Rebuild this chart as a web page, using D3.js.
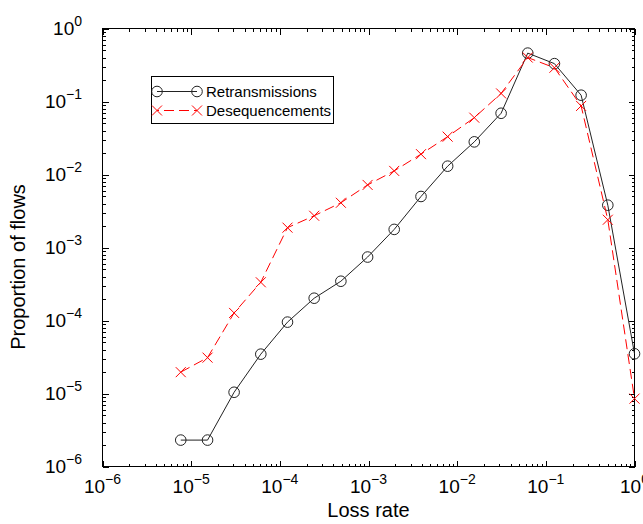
<!DOCTYPE html>
<html><head><meta charset="utf-8">
<script src="https://cdn.jsdelivr.net/npm/d3@7/dist/d3.min.js"></script>
<style>
body{margin:0;background:#fff}
text{font-family:"Liberation Sans",Arial,Helvetica,sans-serif;fill:#000}
</style>
</head><body>
<svg id="c" width="643" height="524"></svg>
<script>
// ---- data ----
const lossRate = [7.63e-6, 1.53e-5, 3.05e-5, 6.10e-5, 1.22e-4, 2.44e-4, 4.88e-4, 9.77e-4,
                  1.95e-3, 3.91e-3, 7.81e-3, 1.56e-2, 3.13e-2, 6.25e-2, 0.125, 0.25, 0.5, 1];
const retransmissions = [2.3e-6, 2.3e-6, 1.04e-5, 3.46e-5, 9.5e-5, 2.02e-4, 3.45e-4, 7.4e-4,
                  1.77e-3, 5.0e-3, 1.30e-2, 2.8e-2, 6.9e-2, 0.46, 0.33, 0.122, 3.8e-3, 3.5e-5];
const desequencements = [1.96e-5, 3.1e-5, 1.27e-4, 3.34e-4, 1.87e-3, 2.72e-3, 4.1e-3, 7.2e-3,
                  1.12e-2, 1.9e-2, 3.3e-2, 6.0e-2, 0.129, 0.40, 0.29, 8.7e-2, 2.4e-3, 8.5e-6];
const seriesNames = ["Retransmissions", "Desequencements"];
const xTickValues = [1e-6, 1e-5, 1e-4, 1e-3, 1e-2, 1e-1, 1e0];
const xTickExponents = ["\u22126", "\u22125", "\u22124", "\u22123", "\u22122", "\u22121", "0"];
const yTickValues = [1e-6, 1e-5, 1e-4, 1e-3, 1e-2, 1e-1, 1e0];
const yTickExponents = ["\u22126", "\u22125", "\u22124", "\u22123", "\u22122", "\u22121", "0"];
const xTitle = "Loss rate";
const yTitle = "Proportion of flows";

// ---- layout ----
const L = 102.5, R = 634.5, T = 28.5, B = 466.5;
const svg = d3.select("#c");
const x = d3.scaleLog().domain([1e-6, 1]).range([L, R]);
const y = d3.scaleLog().domain([1e-6, 1]).range([B, T]);

const minors = [];
for (let e = -6; e < 0; e++) for (let m = 2; m <= 9; m++) minors.push(m * Math.pow(10, e));

function addAxis(gen, tr, vals, size) {
  const g = svg.append("g").attr("transform", tr)
    .call(gen.tickValues(vals).tickSize(size).tickSizeOuter(0).tickFormat(""));
  g.select(".domain").remove();
  g.selectAll("line").attr("stroke", "#000").attr("shape-rendering", "crispEdges");
  return g;
}
addAxis(d3.axisBottom(x), `translate(0,${B})`, xTickValues, -6);
addAxis(d3.axisBottom(x), `translate(0,${B})`, minors, -3);
addAxis(d3.axisTop(x), `translate(0,${T})`, xTickValues, -6);
addAxis(d3.axisTop(x), `translate(0,${T})`, minors, -3);
addAxis(d3.axisLeft(y), `translate(${L},0)`, yTickValues, -6);
addAxis(d3.axisLeft(y), `translate(${L},0)`, minors, -3);
addAxis(d3.axisRight(y), `translate(${R},0)`, yTickValues, -6);
addAxis(d3.axisRight(y), `translate(${R},0)`, minors, -3);

svg.append("rect").attr("x", L).attr("y", T).attr("width", R - L).attr("height", B - T)
  .attr("fill", "none").attr("stroke", "#000").attr("stroke-width", 1);

// tick labels
xTickValues.forEach((v, i) => {
  const t = svg.append("text").attr("x", x(v)).attr("y", B + 26).attr("text-anchor", "middle")
    .attr("font-size", 19);
  t.append("tspan").text("10");
  t.append("tspan").attr("dy", -9).attr("font-size", 14).text(xTickExponents[i]);
});
yTickValues.forEach((v, i) => {
  const t = svg.append("text").attr("x", 82).attr("y", y(v) + 6.5).attr("text-anchor", "end")
    .attr("font-size", 19);
  t.append("tspan").text("10");
  t.append("tspan").attr("dy", -9).attr("font-size", 14).text(yTickExponents[i]);
});

svg.append("text").attr("x", (L + R) / 2).attr("y", 517).attr("text-anchor", "middle")
  .attr("font-size", 20).text(xTitle);
svg.append("text").attr("transform", "translate(25,267) rotate(-90)").attr("text-anchor", "middle")
  .attr("font-size", 20).text(yTitle);

// ---- series ----
const pts1 = lossRate.map((d, i) => [d, retransmissions[i]]);
const pts2 = lossRate.map((d, i) => [d, desequencements[i]]);
const line = d3.line().x(d => x(d[0])).y(d => y(d[1]));
const dash = "10,5";

svg.append("path").datum(pts1).attr("d", line).attr("fill", "none")
  .attr("stroke", "#222").attr("stroke-width", 1);
svg.selectAll("circle.r").data(pts1).join("circle").attr("class", "r")
  .attr("cx", d => x(d[0])).attr("cy", d => y(d[1])).attr("r", 5.3)
  .attr("fill", "none").attr("stroke", "#222").attr("stroke-width", 1);

svg.append("path").datum(pts2).attr("d", line).attr("fill", "none")
  .attr("stroke", "#ff0000").attr("stroke-width", 1).attr("stroke-dasharray", dash);
const xs = 5;
svg.selectAll("path.x").data(pts2).join("path").attr("class", "x")
  .attr("d", d => { const cx = x(d[0]), cy = y(d[1]);
    return `M${cx - xs},${cy - xs}L${cx + xs},${cy + xs}M${cx - xs},${cy + xs}L${cx + xs},${cy - xs}`; })
  .attr("fill", "none").attr("stroke", "#ff0000").attr("stroke-width", 1);

// ---- legend ----
const lg = svg.append("g");
lg.append("rect").attr("x", 151.5).attr("y", 76.5).attr("width", 182).attr("height", 47)
  .attr("fill", "#fff").attr("stroke", "#000").attr("stroke-width", 1);
const rows = [
  {name: seriesNames[0], y: 91.5, color: "#222", dash: null, marker: "o"},
  {name: seriesNames[1], y: 110.5, color: "#ff0000", dash: dash, marker: "x"}
];
rows.forEach(r => {
  lg.append("line").attr("x1", 157).attr("x2", 197).attr("y1", r.y).attr("y2", r.y)
    .attr("stroke", r.color).attr("stroke-width", 1).attr("stroke-dasharray", r.dash)
    .attr("stroke-dashoffset", r.dash ? -7 : null);
  [157, 197].forEach(cx => {
    if (r.marker === "o") {
      lg.append("circle").attr("cx", cx).attr("cy", r.y).attr("r", 5.3)
        .attr("fill", "none").attr("stroke", r.color);
    } else {
      lg.append("path").attr("d", `M${cx - xs},${r.y - xs}L${cx + xs},${r.y + xs}M${cx - xs},${r.y + xs}L${cx + xs},${r.y - xs}`)
        .attr("stroke", r.color).attr("fill", "none");
    }
  });
  lg.append("text").attr("x", 206).attr("y", r.y + 5).attr("font-size", 15).text(r.name);
});
</script>
</body></html>
